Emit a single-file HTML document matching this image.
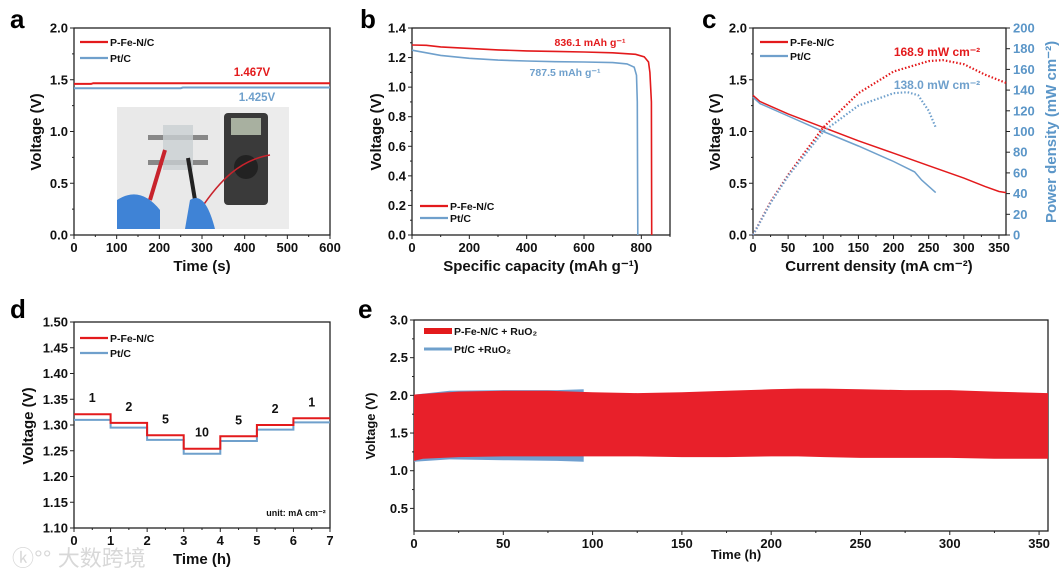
<!DOCTYPE html>
<html><head><meta charset="utf-8">
<style>
html,body{margin:0;padding:0;background:#fff;}
svg{display:block;font-family:"Liberation Sans","Noto Sans CJK SC",sans-serif;}
.tk{font-size:13px;font-weight:bold;fill:#111;}
.at{font-size:15px;font-weight:bold;fill:#111;}
.lg{font-size:10.5px;font-weight:bold;fill:#111;}
.pl{font-size:26px;font-weight:bold;fill:#000;}
</style></head>
<body>
<svg id="fig" width="1063" height="574" viewBox="0 0 1063 574" xmlns="http://www.w3.org/2000/svg">
<g id="photo">
  <rect x="117" y="107" width="172" height="122" fill="#e9e9e9"/>
  <rect x="220" y="107" width="69" height="122" fill="#ececec"/>
  <rect x="148" y="135" width="60" height="5" fill="#888"/>
  <rect x="148" y="160" width="60" height="5" fill="#888"/>
  <rect x="163" y="125" width="30" height="45" fill="#c9cfd2" opacity="0.8"/>
  <rect x="224" y="113" width="44" height="92" rx="4" fill="#3a3a3a"/>
  <rect x="231" y="118" width="30" height="17" fill="#a8b0a0"/>
  <circle cx="246" cy="167" r="12" fill="#222"/>
  <path d="M150 200 L165 150" stroke="#c8232c" stroke-width="4"/>
  <path d="M195 200 L188 158" stroke="#222" stroke-width="4"/>
  <path d="M200 210 C220 180 240 160 270 155" stroke="#c8232c" stroke-width="1.5" fill="none"/>
  <path d="M117 200 Q140 185 160 210 L160 229 L117 229 Z" fill="#3f83d6"/>
  <path d="M190 200 Q205 190 215 229 L185 229 Z" fill="#3f83d6"/>
</g>
<text x="12" y="566" font-size="22" fill="#d8d8d8" font-family="Liberation Sans, Noto Sans CJK SC, sans-serif">ⓚ°° 大数跨境</text>
</svg>
<script>
// ---- data ----
const aTimeRed=[0,40,45,600], aVRed=[1.460,1.460,1.467,1.467];
const aTimeBlue=[0,250,255,600], aVBlue=[1.418,1.418,1.425,1.425];
const bCapRed=[0,50,100,200,300,400,500,600,700,780,810,825,830,835,836.1];
const bVRed=[1.285,1.283,1.272,1.262,1.252,1.245,1.242,1.238,1.232,1.222,1.205,1.17,1.10,0.9,0];
const bCapBlue=[0,100,200,300,400,500,600,700,750,775,783,786,787.5];
const bVBlue=[1.25,1.215,1.195,1.183,1.177,1.172,1.170,1.166,1.157,1.135,1.08,0.9,0];
const cIRed=[0,10,50,100,150,200,250,300,330,350,360];
const cVRed=[1.35,1.29,1.17,1.04,0.91,0.79,0.67,0.55,0.47,0.42,0.41];
const cIBlue=[0,10,50,100,150,200,230,240,260];
const cVBlue=[1.33,1.27,1.15,1.0,0.86,0.71,0.61,0.53,0.41];
const cPIRed=[0,25,50,100,150,200,250,270,300,330,360];
const cPRed=[0,32,58,104,137,158,168,169,165,155,147];
const cPIBlue=[0,25,50,100,150,200,220,235,250,260];
const cPBlue=[0,31,57,100,125,137,138,135,120,104];
const dStepRed=[1.321,1.304,1.280,1.254,1.278,1.300,1.313];
const dStepBlue=[1.310,1.295,1.271,1.244,1.269,1.291,1.305];
const dLabels=["1","2","5","10","5","2","1"];
const eTime=[0,5,25,50,75,100,125,150,175,200,215,230,250,275,300,325,355];
const eTopRed=[2.01,2.02,2.05,2.06,2.06,2.04,2.03,2.04,2.06,2.08,2.09,2.09,2.08,2.07,2.07,2.05,2.03];
const eBotRed=[1.13,1.16,1.18,1.19,1.19,1.19,1.19,1.18,1.18,1.19,1.19,1.18,1.17,1.17,1.17,1.16,1.16];
const eTimeBlue=[0,20,50,80,95];
const eTopBlue=[2.01,2.06,2.07,2.07,2.08];
const eBotBlue=[1.12,1.15,1.14,1.13,1.12];

const NS="http://www.w3.org/2000/svg";
const svg=document.getElementById('fig');
const RED="#e31a1c", BLUE="#6fa0cc", BLUEL="#5b96c8";
function mk(tag,attrs,parent){const e=document.createElementNS(NS,tag);for(const k in attrs)e.setAttribute(k,attrs[k]);(parent||svg).appendChild(e);return e;}
function txt(s,x,y,cls,parent,anchor,fill){const t=mk('text',{x:x,y:y,class:cls,'text-anchor':anchor||'middle'},parent);if(fill)t.setAttribute('fill',fill),t.style.fill=fill;t.textContent=s;return t;}
function scale(d0,d1,r0,r1){return v=>r0+(v-d0)/(d1-d0)*(r1-r0);}
function axes(p){
  const g=mk('g',{});
  
  
  const X=scale(p.x0,p.x1,p.L,p.R), Y=scale(p.y0,p.y1,p.B,p.T);
  mk('rect',{x:p.L,y:p.T,width:p.R-p.L,height:p.B-p.T,fill:'none',stroke:'#222','stroke-width':1.3},g);
  p.xt.forEach(v=>{const x=X(v);mk('line',{x1:x,x2:x,y1:p.B,y2:p.B+4,stroke:'#222'},g);txt(p.xfmt(v),x,p.B+17,'tk',g);});
  if(p.xm)p.xm.forEach(v=>{const x=X(v);mk('line',{x1:x,x2:x,y1:p.B,y2:p.B+2,stroke:'#222'},g);});
  p.yt.forEach(v=>{const y=Y(v);mk('line',{x1:p.L-4,x2:p.L,y1:y,y2:y,stroke:'#222'},g);txt(p.yfmt(v),p.L-6,y+4.5,'tk',g,'end');});
  if(p.ym)p.ym.forEach(v=>{const y=Y(v);mk('line',{x1:p.L-2,x2:p.L,y1:y,y2:y,stroke:'#222'},g);});
  return {X,Y,g};
}
function line(X,Y,xs,ys,col,w,name,dash){
  const d=xs.map((v,i)=>(i?'L':'M')+X(v).toFixed(1)+' '+Y(ys[i]).toFixed(1)).join(' ');
  const p=mk('path',{d:d,fill:'none',stroke:col,'stroke-width':w||1.5});
  if(dash)p.setAttribute('stroke-dasharray',dash);
  
  
  return p;
}
function legend(x,y,items,gap){
  items.forEach((it,i)=>{const yy=y+i*gap;
    const l=mk('line',{x1:x,x2:x+28,y1:yy,y2:yy,stroke:it[1],'stroke-width':it[2]||2.2});
    
    
    const t=txt(it[0],x+30,yy+4,'lg',null,'start');
    
    
  });
}
const rng=(a,b,s)=>{const r=[];for(let v=a;v<=b+1e-9;v+=s)r.push(+v.toFixed(4));return r;};

// ---- panel a ----
let A=axes({name:'panel-a',L:74,R:330,T:28,B:235,x0:0,x1:600,y0:0,y1:2,xt:rng(0,600,100),xm:rng(50,550,100),yt:rng(0,2,0.5),ym:rng(0.25,1.75,0.5),xfmt:v=>v,yfmt:v=>v.toFixed(1)});
line(A.X,A.Y,aTimeBlue,aVBlue,BLUE,2,'pt-c-line');
line(A.X,A.Y,aTimeRed,aVRed,RED,2,'p-fe-n-c-line');
txt('1.467V',252,76,'lg',null,'middle',RED).style.fontSize='11.5px';
txt('1.425V',257,101,'lg',null,'middle',BLUE).style.fontSize='11.5px';
legend(80,42,[['P-Fe-N/C',RED],['Pt/C',BLUE]],16);
txt('Time (s)',202,271,'at');
let t=txt('Voltage (V)',0,0,'at');t.setAttribute('transform','translate(41,132) rotate(-90)');
txt('a',10,28,'pl',null,'start');
svg.appendChild(document.getElementById('photo'));

// ---- panel b ----
let B=axes({name:'panel-b',L:412,R:670,T:28,B:235,x0:0,x1:900,y0:0,y1:1.4,xt:rng(0,800,200),xm:rng(100,900,200),yt:rng(0,1.4,0.2),ym:rng(0.1,1.3,0.2),xfmt:v=>v,yfmt:v=>v.toFixed(1)});
line(B.X,B.Y,bCapBlue,bVBlue,BLUE,1.6,'pt-c-discharge');
line(B.X,B.Y,bCapRed,bVRed,RED,1.6,'p-fe-n-c-discharge');
txt('836.1 mAh g⁻¹',590,46,'lg',null,'middle',RED);
txt('787.5 mAh g⁻¹',565,76,'lg',null,'middle',BLUE);
legend(420,206,[['P-Fe-N/C',RED],['Pt/C',BLUE]],12);
txt('Specific capacity (mAh g⁻¹)',541,271,'at');
t=txt('Voltage (V)',0,0,'at');t.setAttribute('transform','translate(381,132) rotate(-90)');
txt('b',360,28,'pl',null,'start');

// ---- panel c ----
let C=axes({name:'panel-c',L:753,R:1006,T:28,B:235,x0:0,x1:360,y0:0,y1:2,xt:rng(0,350,50),xm:rng(25,350,50),yt:rng(0,2,0.5),ym:rng(0.25,1.75,0.5),xfmt:v=>v,yfmt:v=>v.toFixed(1)});
const YP=scale(0,200,235,28);
rng(0,200,20).forEach(v=>{const y=YP(v);mk('line',{x1:1006,x2:1010,y1:y,y2:y,stroke:'#222'});txt(v,1013,y+4.5,'tk',null,'start',BLUEL);});
line(C.X,C.Y,cIBlue,cVBlue,BLUE,1.5,'pt-c-polarization');
line(C.X,C.Y,cIRed,cVRed,RED,1.5,'p-fe-n-c-polarization');
line(C.X,YP,cPIRed,cPRed,RED,2.2,'p-fe-n-c-power','1.5 2');
line(C.X,YP,cPIBlue,cPBlue,BLUE,2.2,'pt-c-power','1.5 2');
txt('168.9 mW cm⁻²',937,56,'lg',null,'middle',RED).style.fontSize='12px';
txt('138.0 mW cm⁻²',937,89,'lg',null,'middle',BLUE).style.fontSize='12px';
legend(760,42,[['P-Fe-N/C',RED],['Pt/C',BLUE]],14);
txt('Current density (mA cm⁻²)',879,271,'at');
t=txt('Voltage (V)',0,0,'at');t.setAttribute('transform','translate(720,132) rotate(-90)');
t=txt('Power density (mW cm⁻²)',0,0,'at',null,'middle',BLUEL);t.setAttribute('transform','translate(1056,132) rotate(-90)');
txt('c',702,28,'pl',null,'start');

// ---- panel d ----
let D=axes({name:'panel-d',L:74,R:330,T:322,B:528,x0:0,x1:7,y0:1.10,y1:1.50,xt:rng(0,7,1),xm:rng(0.5,6.5,1),yt:rng(1.10,1.50,0.05),ym:[],xfmt:v=>v,yfmt:v=>v.toFixed(2)});
function steps(vals){const xs=[],ys=[];vals.forEach((v,i)=>{xs.push(i,i+1);ys.push(v,v);});return [xs,ys];}
let sb=steps(dStepBlue), sr=steps(dStepRed);
line(D.X,D.Y,sb[0],sb[1],BLUE,2,'pt-c-rate-steps');
line(D.X,D.Y,sr[0],sr[1],RED,2,'p-fe-n-c-rate-steps');
dLabels.forEach((s,i)=>{const l=txt(s,D.X(i+0.5),D.Y(dStepRed[i])-12,'lg');l.style.fontSize='12.5px';});
legend(80,338,[['P-Fe-N/C',RED],['Pt/C',BLUE]],15);
txt('unit: mA cm⁻²',296,516,'lg').style.fontSize='9px';
txt('Time (h)',202,564,'at');
t=txt('Voltage (V)',0,0,'at');t.setAttribute('transform','translate(33,426) rotate(-90)');
txt('d',10,318,'pl',null,'start');

// ---- panel e ----
let E=axes({name:'panel-e',L:414,R:1048,T:320,B:531,x0:0,x1:355,y0:0.2,y1:3.0,xt:rng(0,350,50),xm:rng(25,325,50),yt:rng(0.5,3.0,0.5),ym:rng(0.75,2.75,0.5),xfmt:v=>v,yfmt:v=>v.toFixed(1)});
function band(xs,top,bot,col,name){
  const d=xs.map((v,i)=>(i?'L':'M')+E.X(v).toFixed(1)+' '+E.Y(top[i]).toFixed(1)).join(' ')+' '+
    xs.slice().reverse().map((v,j)=>{const i=xs.length-1-j;return 'L'+E.X(v).toFixed(1)+' '+E.Y(bot[i]).toFixed(1);}).join(' ')+'Z';
  const p=mk('path',{d:d,fill:col});
  
  
}
band(eTimeBlue,eTopBlue,eBotBlue,'#6f9fcf','pt-c-ruo2-cycling-band');
band(eTime,eTopRed,eBotRed,'#e8202a','p-fe-n-c-ruo2-cycling-band');
legend(424,331,[['P-Fe-N/C + RuO₂',RED,6],['Pt/C +RuO₂',BLUE,3]],18);
txt('Time (h)',736,559,'lg').style.fontSize='13px';
t=txt('Voltage (V)',0,0,'lg');t.style.fontSize='13px';t.setAttribute('transform','translate(375,426) rotate(-90)');
txt('e',358,318,'pl',null,'start');
</script>
</body></html>
